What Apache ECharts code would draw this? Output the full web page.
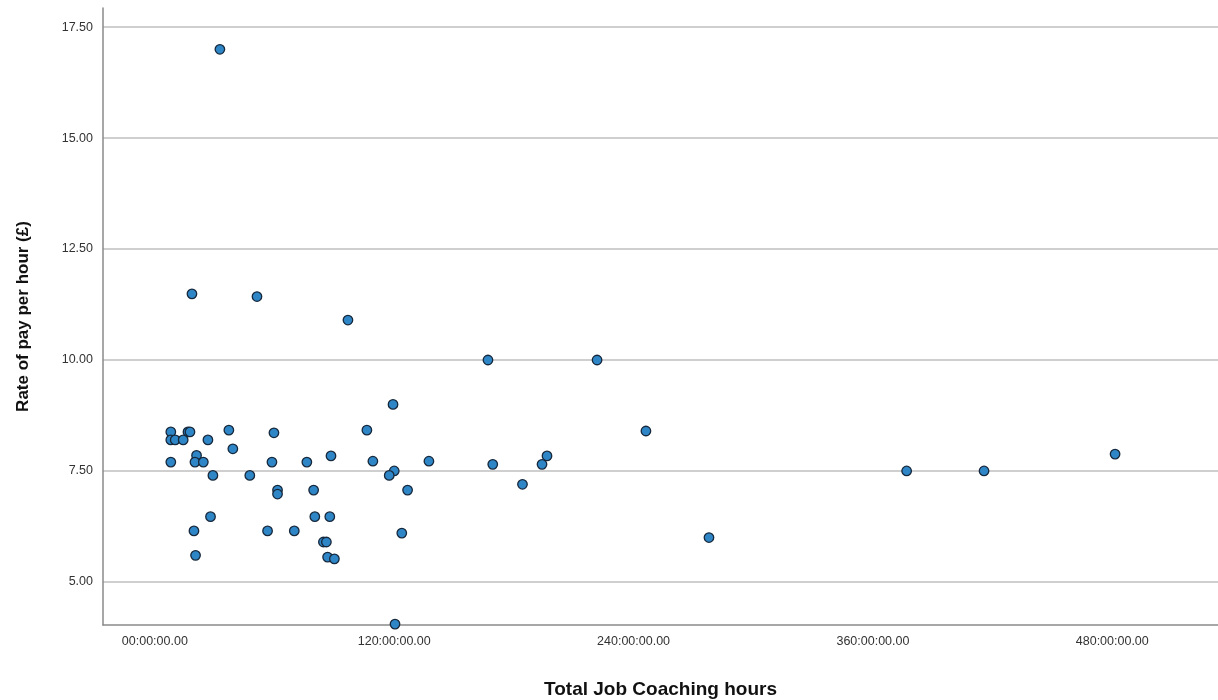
<!DOCTYPE html>
<html>
<head>
<meta charset="utf-8">
<script src="https://cdn.jsdelivr.net/npm/echarts@6/dist/echarts.min.js"></script>
<style>
  html, body { margin: 0; padding: 0; background: #fff; }
  #chart { width: 1218px; height: 700px; }
</style>
</head>
<body>
<div id="chart"></div>
<script>
// coaching hours (x) and pay rate in £ (y)
const hours = [
  32.6, 18.6, 51.2, 96.8, 167.0, 221.7, 119.4, 246.2, 106.3, 37.1,
  59.7, 8.0, 16.6, 17.6, 8.0, 10.2, 14.2, 26.6, 39.1, 8.0,
  20.9, 20.1, 24.3, 58.7, 76.2, 88.3, 109.3, 137.4, 196.6, 194.1,
  169.4, 120.0, 117.5, 47.6, 29.1, 126.7, 79.6, 61.5, 61.5, 184.3,
  376.9, 415.7, 481.4, 27.9, 80.2, 87.7, 19.6, 56.5, 69.9, 123.8,
  277.8, 84.5, 86.0, 20.4, 86.6, 90.0, 120.4
];
const payRate = [
  17.00, 11.49, 11.43, 10.90, 10.00, 10.00, 9.00, 8.40, 8.42, 8.42,
  8.36, 8.38, 8.38, 8.38, 8.20, 8.20, 8.20, 8.20, 8.00, 7.70,
  7.85, 7.70, 7.70, 7.70, 7.70, 7.84, 7.72, 7.72, 7.84, 7.65,
  7.65, 7.50, 7.40, 7.40, 7.40, 7.07, 7.07, 7.07, 6.98, 7.20,
  7.50, 7.50, 7.88, 6.47, 6.47, 6.47, 6.15, 6.15, 6.15, 6.10,
  6.00, 5.90, 5.90, 5.60, 5.56, 5.52, 4.05
];
const xTicks = [0, 120, 240, 360, 480];
const yTicks = [5, 7.5, 10, 12.5, 15, 17.5];

const points = hours.map((h, i) => [h, payRate[i]]);

function fmtHours(v) {
  let h = String(Math.round(v));
  if (h.length < 2) h = '0' + h;
  return h + ':00:00.00';
}

const chart = echarts.init(document.getElementById('chart'));
chart.setOption({
  backgroundColor: '#ffffff',
  animation: false,
  grid: { left: 103, right: 0, top: 8, bottom: 75, outerBoundsMode: 'none', containLabel: false },
  xAxis: {
    type: 'value',
    min: -26,
    max: 533,
    name: 'Total Job Coaching hours',
    nameLocation: 'middle',
    nameGap: 55,
    nameTextStyle: { fontFamily: 'Liberation Sans', fontSize: 19, fontWeight: 'bold', color: '#111' },
    axisLine: { show: true, onZero: false, lineStyle: { color: '#8a8a8a', width: 1.5 } },
    axisTick: { show: false, customValues: xTicks },
    splitLine: { show: false },
    axisLabel: {
      customValues: xTicks,
      formatter: fmtHours,
      fontFamily: 'Liberation Sans',
      fontSize: 12.5,
      color: '#333',
      margin: 10
    }
  },
  yAxis: {
    type: 'value',
    min: 4.03,
    max: 17.93,
    name: 'Rate of pay per hour (£)',
    nameLocation: 'middle',
    nameGap: 71,
    nameTextStyle: { fontFamily: 'Liberation Sans', fontSize: 17, fontWeight: 'bold', color: '#111' },
    axisLine: { show: true, onZero: false, lineStyle: { color: '#8a8a8a', width: 1.5 } },
    axisTick: { show: false, customValues: yTicks },
    splitLine: { show: true, lineStyle: { color: '#cfcfcf', width: 2 } },
    axisLabel: {
      customValues: yTicks,
      formatter: v => v.toFixed(2),
      fontFamily: 'Liberation Sans',
      fontSize: 12.5,
      color: '#333',
      margin: 10
    }
  },
  series: [{
    type: 'scatter',
    data: points,
    symbol: 'circle',
    symbolSize: 9.5,
    itemStyle: { color: '#2f86c6', borderColor: '#16283c', borderWidth: 1.3, opacity: 1 }
  }]
});
</script>
</body>
</html>
